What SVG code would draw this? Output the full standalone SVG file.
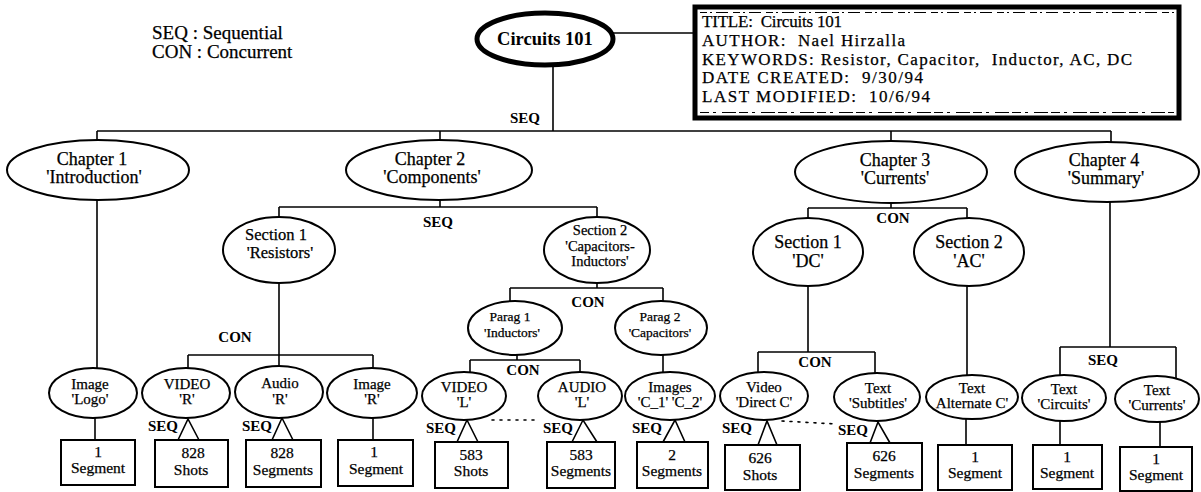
<svg xmlns="http://www.w3.org/2000/svg" width="1201" height="492" viewBox="0 0 1201 492">
<style>
text{font-family:"Liberation Serif","Times New Roman",serif;fill:#000;stroke:#000;stroke-width:0.25;text-anchor:middle}
.e{fill:#fff;stroke:#000;stroke-width:2}
.b{fill:#fff;stroke:#000;stroke-width:2}
.ch{font-size:18px}
.sec{font-size:16.5px}
.lf{font-size:15px}
.bx{font-size:15.5px}
.lb{font-size:15px;font-weight:bold;stroke-width:0}
.cn line,.cn polyline{stroke:#000;stroke-width:1.6;fill:none}
.dot{stroke-dasharray:2 6;stroke-linecap:round}
.inf{font-size:17px;text-anchor:start}
</style>
<rect width="1201" height="492" fill="#fff"/>
<g id="legend">
<text x="152" y="39" style="font-size:19px;text-anchor:start">SEQ : Sequential</text>
<text x="152" y="58" style="font-size:19px;text-anchor:start">CON : Concurrent</text>
</g>
<g class="cn" id="connectors">
<line x1="613" y1="33" x2="695" y2="33"/>
<line x1="553" y1="65" x2="553" y2="131"/>
<line x1="97" y1="131" x2="1111" y2="131"/>
<line x1="97" y1="131" x2="97" y2="140"/>
<line x1="440" y1="131" x2="440" y2="140"/>
<line x1="891" y1="131" x2="891" y2="141"/>
<line x1="1111" y1="131" x2="1111" y2="142"/>
<line x1="440" y1="200" x2="440" y2="207"/>
<line x1="279" y1="207" x2="597" y2="207"/>
<line x1="279" y1="207" x2="279" y2="217"/>
<line x1="597" y1="207" x2="597" y2="217"/>
<line x1="97" y1="200" x2="97" y2="368"/>
<line x1="279" y1="283" x2="279" y2="366"/>
<line x1="188" y1="355" x2="373" y2="355"/>
<line x1="188" y1="355" x2="188" y2="368"/>
<line x1="373" y1="355" x2="373" y2="368"/>
<line x1="95" y1="418" x2="95" y2="440"/>
<polyline points="178,440 188,419 199,440"/>
<polyline points="272,440 282,418 293,440"/>
<line x1="373" y1="418" x2="373" y2="440"/>
<line x1="597" y1="283" x2="597" y2="288"/>
<line x1="510" y1="288" x2="663" y2="288"/>
<line x1="510" y1="288" x2="510" y2="301"/>
<line x1="663" y1="288" x2="663" y2="301"/>
<line x1="517" y1="355" x2="517" y2="360"/>
<line x1="470" y1="360" x2="580" y2="360"/>
<line x1="470" y1="360" x2="470" y2="372"/>
<line x1="580" y1="360" x2="580" y2="372"/>
<line x1="663" y1="355" x2="663" y2="372"/>
<polyline points="457,442 467,420 478,442"/>
<polyline points="572,442 583,420 597,442"/>
<polyline points="663,442 675,420 685,442"/>
<line class="dot" x1="492" y1="420" x2="537" y2="420"/>
<line x1="891" y1="203" x2="891" y2="208"/>
<line x1="808" y1="208" x2="967" y2="208"/>
<line x1="808" y1="208" x2="808" y2="218"/>
<line x1="967" y1="208" x2="967" y2="218"/>
<line x1="808" y1="286" x2="808" y2="352"/>
<line x1="758" y1="352" x2="875" y2="352"/>
<line x1="758" y1="352" x2="758" y2="372"/>
<line x1="875" y1="352" x2="875" y2="373"/>
<polyline points="758,445 767,421 777,445"/>
<polyline points="870,443 878,422 890,443"/>
<line class="dot" x1="782" y1="421" x2="836" y2="424"/>
<line x1="967" y1="286" x2="967" y2="375"/>
<line x1="966" y1="419" x2="966" y2="445"/>
<line x1="1110" y1="202" x2="1110" y2="347"/>
<line x1="1060" y1="347" x2="1176" y2="347"/>
<line x1="1060" y1="347" x2="1060" y2="375"/>
<line x1="1176" y1="347" x2="1176" y2="379"/>
<line x1="1060" y1="421" x2="1060" y2="445"/>
<line x1="1160" y1="422" x2="1160" y2="447"/>
</g>
<g id="edge-labels">
<text class="lb" x="525" y="123">SEQ</text>
<text class="lb" x="438" y="227">SEQ</text>
<text class="lb" x="235" y="342">CON</text>
<text class="lb" x="588" y="307">CON</text>
<text class="lb" x="523" y="375">CON</text>
<text class="lb" x="893" y="223">CON</text>
<text class="lb" x="815" y="367">CON</text>
<text class="lb" x="1103" y="365">SEQ</text>
<text class="lb" x="163" y="431">SEQ</text>
<text class="lb" x="257" y="431">SEQ</text>
<text class="lb" x="441" y="433">SEQ</text>
<text class="lb" x="558" y="433">SEQ</text>
<text class="lb" x="647" y="433">SEQ</text>
<text class="lb" x="737" y="433">SEQ</text>
<text class="lb" x="853" y="435">SEQ</text>
</g>
<g id="root">
<ellipse cx="545" cy="39" rx="68" ry="26" fill="#fff" stroke="#000" stroke-width="5"/>
<text x="545" y="45" style="font-size:18.5px;font-weight:bold;stroke-width:0">Circuits 101</text>
</g>
<g id="info">
<rect x="695" y="7" width="484" height="111" fill="#fff" stroke="#000" stroke-width="5"/>
<line x1="700" y1="12.5" x2="1174" y2="12.5" stroke="#000" stroke-width="1" stroke-dasharray="7 3 2 4 12 5"/>
<line x1="700" y1="112.5" x2="1174" y2="112.5" stroke="#000" stroke-width="1" stroke-dasharray="9 4 3 6 14 3"/>
<text class="inf" x="702" y="27" xml:space="preserve" textLength="140" lengthAdjust="spacing">TITLE:  Circuits 101</text>
<text class="inf" x="702" y="45.8" xml:space="preserve" textLength="203" lengthAdjust="spacing">AUTHOR:  Nael Hirzalla</text>
<text class="inf" x="702" y="64.6" xml:space="preserve" textLength="430" lengthAdjust="spacing">KEYWORDS: Resistor, Capacitor,  Inductor, AC, DC</text>
<text class="inf" x="702" y="83.4" xml:space="preserve" textLength="221" lengthAdjust="spacing">DATE CREATED:  9/30/94</text>
<text class="inf" x="702" y="102.2" xml:space="preserve" textLength="228" lengthAdjust="spacing">LAST MODIFIED:  10/6/94</text>
</g>
<g id="ch1"><ellipse class="e" cx="98" cy="170" rx="91" ry="30"/><text class="ch" x="92" y="165">Chapter 1</text><text class="ch" x="94" y="183">'Introduction'</text></g>
<g id="ch2"><ellipse class="e" cx="439" cy="170" rx="93" ry="30"/><text class="ch" x="430" y="165">Chapter 2</text><text class="ch" x="432" y="183">'Components'</text></g>
<g id="ch3"><ellipse class="e" cx="891" cy="172" rx="96" ry="31"/><text class="ch" x="895" y="166">Chapter 3</text><text class="ch" x="895" y="184">'Currents'</text></g>
<g id="ch4"><ellipse class="e" cx="1107" cy="172" rx="92" ry="30"/><text class="ch" x="1104" y="166">Chapter 4</text><text class="ch" x="1106" y="184">'Summary'</text></g>
<g id="sec1-res"><ellipse class="e" cx="279" cy="250" rx="56" ry="33"/><text class="sec" x="276" y="240">Section 1</text><text class="sec" x="280" y="258">'Resistors'</text></g>
<g id="sec2-capind"><ellipse class="e" cx="597" cy="250" rx="53" ry="33"/><g style="font-size:14.5px"><text x="600" y="235">Section 2</text><text x="600" y="251">'Capacitors-</text><text x="600" y="266">Inductors'</text></g></g>
<g id="sec1-dc"><ellipse class="e" cx="808" cy="252" rx="55" ry="34"/><text class="ch" x="808" y="248">Section 1</text><text class="ch" x="808" y="267">'DC'</text></g>
<g id="sec2-ac"><ellipse class="e" cx="969" cy="252" rx="55" ry="34"/><text class="ch" x="969" y="248">Section 2</text><text class="ch" x="969" y="267">'AC'</text></g>
<g id="parag1"><ellipse class="e" cx="515" cy="328" rx="47" ry="27"/><g style="font-size:13.5px"><text x="510" y="321">Parag 1</text><text x="512" y="337">'Inductors'</text></g></g>
<g id="parag2"><ellipse class="e" cx="661" cy="328" rx="46" ry="27"/><g style="font-size:13.5px"><text x="660" y="321">Parag 2</text><text x="660" y="337">'Capacitors'</text></g></g>
<g id="img-logo"><ellipse class="e" cx="93" cy="393" rx="44" ry="25"/><text class="lf" x="90" y="389">Image</text><text class="lf" x="90" y="404">'Logo'</text></g>
<g id="video-r"><ellipse class="e" cx="186" cy="393" rx="44" ry="25"/><text class="lf" x="187" y="389">VIDEO</text><text class="lf" x="187" y="404">'R'</text></g>
<g id="audio-r"><ellipse class="e" cx="279" cy="392" rx="44" ry="26"/><text class="lf" x="280" y="388">Audio</text><text class="lf" x="280" y="404">'R'</text></g>
<g id="image-r"><ellipse class="e" cx="372" cy="393" rx="45" ry="25"/><text class="lf" x="372" y="389">Image</text><text class="lf" x="372" y="404">'R'</text></g>
<g id="video-l"><ellipse class="e" cx="464" cy="396" rx="42" ry="24"/><text class="lf" x="464" y="392">VIDEO</text><text class="lf" x="464" y="407">'L'</text></g>
<g id="audio-l"><ellipse class="e" cx="580" cy="396" rx="42" ry="24"/><text class="lf" x="582" y="392">AUDIO</text><text class="lf" x="582" y="407">'L'</text></g>
<g id="images-c"><ellipse class="e" cx="670" cy="396" rx="45" ry="24"/><text class="lf" x="670" y="392">Images</text><text class="lf" x="670" y="407">'C_1' 'C_2'</text></g>
<g id="video-dc"><ellipse class="e" cx="764" cy="396" rx="44" ry="24"/><text class="lf" x="764" y="392">Video</text><text class="lf" x="764" y="407">'Direct C'</text></g>
<g id="text-sub"><ellipse class="e" cx="877" cy="397" rx="43" ry="24"/><text class="lf" x="878" y="393">Text</text><text class="lf" x="878" y="408">'Subtitles'</text></g>
<g id="text-alt"><ellipse class="e" cx="972" cy="397" rx="46" ry="22"/><text class="lf" x="972" y="393">Text</text><text class="lf" x="972" y="408">Alternate C'</text></g>
<g id="text-circ"><ellipse class="e" cx="1064" cy="398" rx="42" ry="23"/><text class="lf" x="1064" y="394">Text</text><text class="lf" x="1064" y="409">'Circuits'</text></g>
<g id="text-curr"><ellipse class="e" cx="1157" cy="399" rx="42" ry="23"/><text class="lf" x="1157" y="395">Text</text><text class="lf" x="1157" y="410">'Currents'</text></g>
<g id="box-logo"><rect class="b" x="61" y="440" width="74" height="45"/><text class="bx" x="98" y="457">1</text><text class="bx" x="98" y="473">Segment</text></g>
<g id="box-vr"><rect class="b" x="155" y="440" width="73" height="47"/><text class="bx" x="193" y="458">828</text><text class="bx" x="191" y="475">Shots</text></g>
<g id="box-ar"><rect class="b" x="246" y="440" width="75" height="47"/><text class="bx" x="282" y="458">828</text><text class="bx" x="283" y="475">Segments</text></g>
<g id="box-ir"><rect class="b" x="338" y="440" width="75" height="46"/><text class="bx" x="374" y="457">1</text><text class="bx" x="376" y="474">Segment</text></g>
<g id="box-vl"><rect class="b" x="435" y="442" width="73" height="46"/><text class="bx" x="471" y="460">583</text><text class="bx" x="471" y="476">Shots</text></g>
<g id="box-al"><rect class="b" x="547" y="442" width="68" height="46"/><text class="bx" x="581" y="460">583</text><text class="bx" x="581" y="476">Segments</text></g>
<g id="box-img"><rect class="b" x="637" y="442" width="71" height="46"/><text class="bx" x="672" y="460">2</text><text class="bx" x="672" y="476">Segments</text></g>
<g id="box-vdc"><rect class="b" x="725" y="445" width="75" height="45"/><text class="bx" x="760" y="463">626</text><text class="bx" x="760" y="480">Shots</text></g>
<g id="box-sub"><rect class="b" x="847" y="443" width="75" height="47"/><text class="bx" x="884" y="461">626</text><text class="bx" x="884" y="478">Segments</text></g>
<g id="box-alt"><rect class="b" x="938" y="445" width="74" height="45"/><text class="bx" x="975" y="462">1</text><text class="bx" x="975" y="478">Segment</text></g>
<g id="box-circ"><rect class="b" x="1033" y="445" width="69" height="44"/><text class="bx" x="1067" y="462">1</text><text class="bx" x="1067" y="478">Segment</text></g>
<g id="box-curr"><rect class="b" x="1120" y="447" width="72" height="44"/><text class="bx" x="1156" y="464">1</text><text class="bx" x="1156" y="480">Segment</text></g>
</svg>
